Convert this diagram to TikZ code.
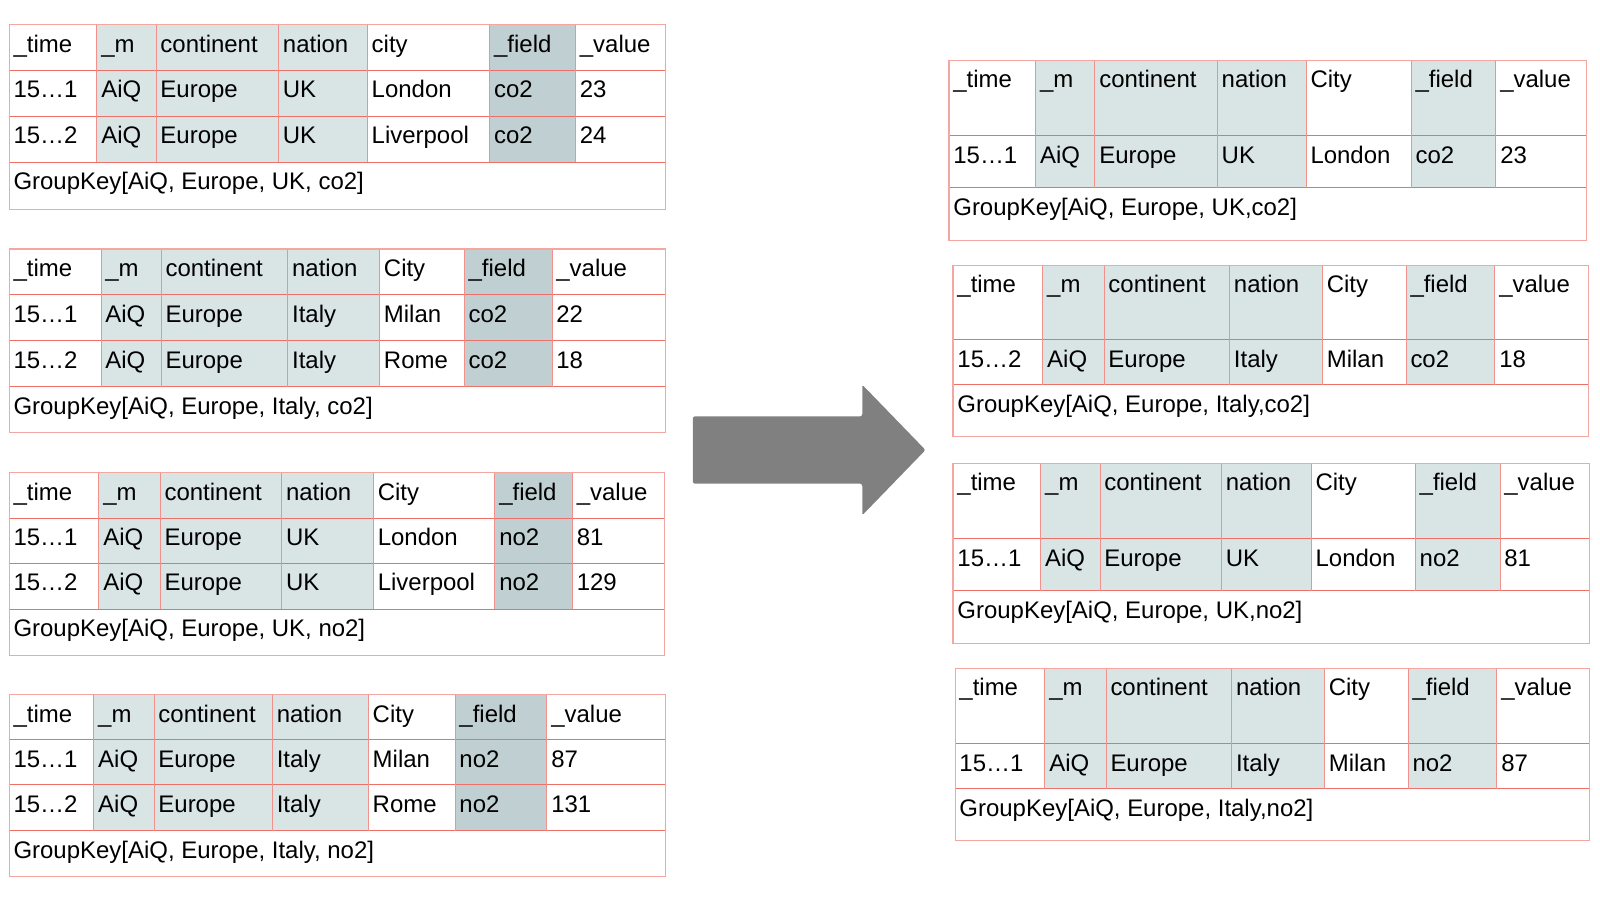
\documentclass[tikz,border=0pt]{standalone}
\usepackage{fontspec}
\setmainfont{Liberation Sans}
\usepackage{tikz}

\definecolor{chiaro}{HTML}{D9E4E4}
\definecolor{scuro}{HTML}{BFCFD2}
\definecolor{rosso}{HTML}{EE6F68}
\definecolor{rosa}{HTML}{F4A6A2}
\definecolor{grigio}{HTML}{808080}

\tikzset{
  linea/.style={draw=rosso, line width=0.7pt},
  lineav/.style={draw=rosa!60!rosso, line width=0.7pt},
  bordo/.style={draw=rosa, line width=0.8pt},
  cella/.style={anchor=base west, inner sep=0pt, xshift=1mm, yshift=-6.75mm,
    font=\fontsize{16.7}{20}\selectfont},
  freccia/.style={fill=grigio, rounded corners=1.5pt}
}

% griglia: nome, colonne, righe, righe di dati, colore di _field
\newcommand{\griglia}[5]{%
  \foreach \x [count=\i from 0] in {#2} {\coordinate (#1c\i) at (\x,0);}
  \foreach \y [count=\j from 0] in {#3} {\coordinate (#1r\j) at (0,-\y);}
  \pgfmathtruncatemacro{\chiave}{#4+1}
  \pgfmathtruncatemacro{\fondo}{#4+2}
  \fill[chiaro] (#1c1 |- #1r0) rectangle (#1c4 |- #1r\chiave);
  \fill[#5] (#1c5 |- #1r0) rectangle (#1c6 |- #1r\chiave);
  \foreach \j in {1,...,\chiave} {\draw[linea] (#1c0 |- #1r\j) -- (#1c7 |- #1r\j);}
  \foreach \i in {1,...,6} {\draw[lineav] (#1c\i |- #1r0) -- (#1c\i |- #1r\chiave);}
  \draw[bordo] (#1c0 |- #1r0) rectangle (#1c7 |- #1r\fondo);
}
% riga di testo: nome, indice di riga, celle
\newcommand{\riga}[3]{%
  \foreach \t [count=\i from 0] in {#3} {\node[cella] (#1-#2-\i) at (#1c\i |- #1r#2) {\t};}
}

\begin{document}
\begin{tikzpicture}[x=0.025cm, y=0.025cm]
            \useasboundingbox (0,0) rectangle (1568,-882);
            % Tabelle di partenza (a sinistra)
            \griglia{L1}{9,95,153,273,360,480,564,652}{24,69,114,159,205}{2}{scuro}
            \riga{L1}{0}{\_time,\_m,continent,nation,city,\_field,\_value}
            \riga{L1}{1}{15…1,AiQ,Europe,UK,London,co2,23}
            \riga{L1}{2}{15…2,AiQ,Europe,UK,Liverpool,co2,24}
            \node[cella] (L1-key) at (L1c0 |- L1r3) {GroupKey[AiQ, Europe, UK, co2]};

            \griglia{L2}{9,99,158,282,372,455,541,652}{244,289,334,379,424}{2}{scuro}
            \riga{L2}{0}{\_time,\_m,continent,nation,City,\_field,\_value}
            \riga{L2}{1}{15…1,AiQ,Europe,Italy,Milan,co2,22}
            \riga{L2}{2}{15…2,AiQ,Europe,Italy,Rome,co2,18}
            \node[cella] (L2-key) at (L2c0 |- L2r3) {GroupKey[AiQ, Europe, Italy, co2]};

            \griglia{L3}{9,97,157,276,366,485,561,651}{463,508,552,597,642}{2}{scuro}
            \riga{L3}{0}{\_time,\_m,continent,nation,City,\_field,\_value}
            \riga{L3}{1}{15…1,AiQ,Europe,UK,London,no2,81}
            \riga{L3}{2}{15…2,AiQ,Europe,UK,Liverpool,no2,129}
            \node[cella] (L3-key) at (L3c0 |- L3r3) {GroupKey[AiQ, Europe, UK, no2]};

            \griglia{L4}{9,92,151,267,361,446,536,652}{681,725,769,814,859}{2}{scuro}
            \riga{L4}{0}{\_time,\_m,continent,nation,City,\_field,\_value}
            \riga{L4}{1}{15…1,AiQ,Europe,Italy,Milan,no2,87}
            \riga{L4}{2}{15…2,AiQ,Europe,Italy,Rome,no2,131}
            \node[cella] (L4-key) at (L4c0 |- L4r3) {GroupKey[AiQ, Europe, Italy, no2]};

            % Freccia
            \fill[freccia] (679,-408) -- (845,-408) -- (845,-377) -- (907,-441)
              -- (845,-505) -- (845,-474) -- (679,-474) -- cycle;

            % Tabelle risultanti (a destra)
            \griglia{R1}{930,1015,1073,1193,1280,1383,1466,1555}{59,133,184,236}{1}{chiaro}
            \riga{R1}{0}{\_time,\_m,continent,nation,City,\_field,\_value}
            \riga{R1}{1}{15…1,AiQ,Europe,UK,London,co2,23}
            \node[cella] (R1-key) at (R1c0 |- R1r2) {GroupKey[AiQ, Europe, UK,co2]};

            \griglia{R2}{934,1022,1082,1205,1296,1378,1465,1557}{260,333,377,428}{1}{chiaro}
            \riga{R2}{0}{\_time,\_m,continent,nation,City,\_field,\_value}
            \riga{R2}{1}{15…2,AiQ,Europe,Italy,Milan,co2,18}
            \node[cella] (R2-key) at (R2c0 |- R2r2) {GroupKey[AiQ, Europe, Italy,co2]};

            \griglia{R3}{934,1020,1078,1197,1285,1387,1470,1558}{454,528,579,631}{1}{chiaro}
            \riga{R3}{0}{\_time,\_m,continent,nation,City,\_field,\_value}
            \riga{R3}{1}{15…1,AiQ,Europe,UK,London,no2,81}
            \node[cella] (R3-key) at (R3c0 |- R3r2) {GroupKey[AiQ, Europe, UK,no2]};

            \griglia{R4}{936,1024,1084,1207,1298,1380,1467,1558}{655,729,773,824}{1}{chiaro}
            \riga{R4}{0}{\_time,\_m,continent,nation,City,\_field,\_value}
            \riga{R4}{1}{15…1,AiQ,Europe,Italy,Milan,no2,87}
            \node[cella] (R4-key) at (R4c0 |- R4r2) {GroupKey[AiQ, Europe, Italy,no2]};
\end{tikzpicture}
\end{document}
